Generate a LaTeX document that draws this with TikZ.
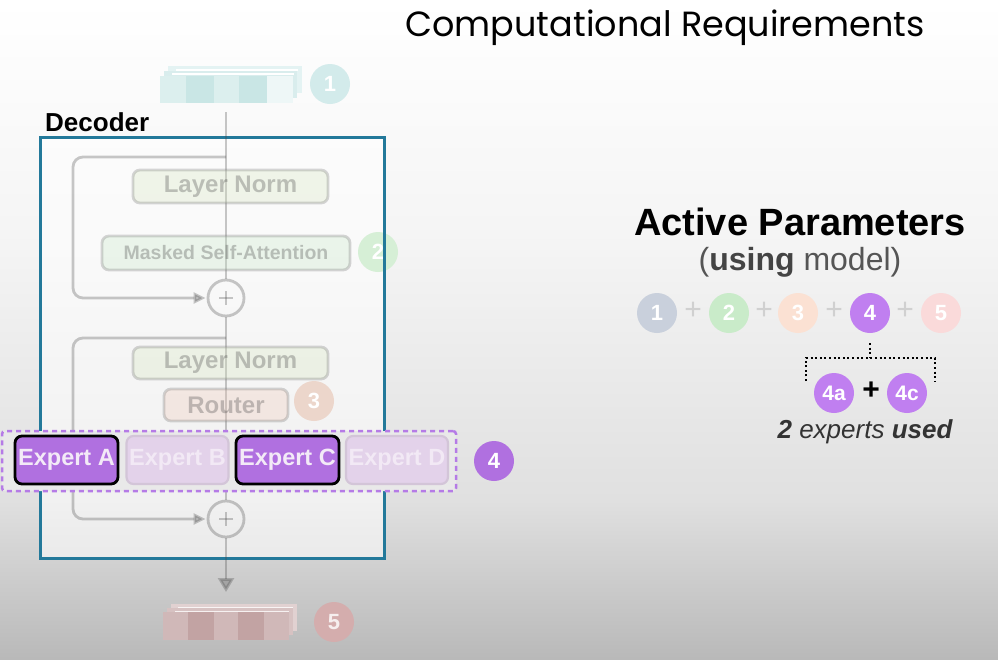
\documentclass[tikz,border=0pt]{standalone}
\usepackage{fontspec}
\setmainfont{Liberation Sans}
\newfontfamily\titlefont{Poppins}
\usetikzlibrary{arrows.meta}

% palette
\definecolor{bgA}{HTML}{FFFFFF}
\definecolor{bgB}{HTML}{F4F4F4}
\definecolor{bgC}{HTML}{E0E0E0}
\definecolor{bgD}{HTML}{B9B9B9}
\definecolor{decteal}{HTML}{23799A}
\definecolor{ghostline}{HTML}{4A4A4A}
\definecolor{ghostedge}{HTML}{7A7A7A}
\definecolor{ghosttext}{HTML}{404040}
\definecolor{lnfill}{HTML}{D6E6BF}
\definecolor{msafill}{HTML}{C7E8C7}
\definecolor{routerfill}{HTML}{F0C8B8}
\definecolor{moe}{HTML}{B070E0}
\definecolor{moelight}{HTML}{C07FF0}
\definecolor{moedash}{HTML}{B57BE6}
\definecolor{expfadefill}{HTML}{E3D2EA}
\definecolor{expfadeedge}{HTML}{D3C5D8}
\definecolor{expfadetext}{HTML}{F2E9F5}
\definecolor{expertext}{HTML}{F3EAF7}
\definecolor{tealA}{HTML}{DCEFEE}
\definecolor{tealB}{HTML}{C9E6E5}
\definecolor{tealC}{HTML}{EEF7F7}
\definecolor{tealBack}{HTML}{D9EDED}
\definecolor{roseA}{HTML}{D0B8B8}
\definecolor{roseB}{HTML}{C2A3A3}
\definecolor{roseBack}{HTML}{CDB3B3}
\definecolor{oneL}{HTML}{D3EBEB}
\definecolor{twoL}{HTML}{D6EFD6}
\definecolor{threeL}{HTML}{ECD6CB}
\definecolor{fiveL}{HTML}{D4ADAD}
\definecolor{oneR}{HTML}{C9D0DC}
\definecolor{twoR}{HTML}{C9EBC9}
\definecolor{threeR}{HTML}{FBE1D3}
\definecolor{fiveR}{HTML}{FADADA}
\definecolor{plusR}{HTML}{D0D0D0}
\definecolor{subtitle}{HTML}{555555}

\tikzset{
  ghostwire/.style={draw=ghostline, line width=2.8pt, opacity=0.3},
  ghostbox/.style={draw=ghostedge, line width=2.8pt, rounded corners=7pt,
    opacity=0.3, text=ghosttext, font=\bfseries, inner sep=0pt},
  sumnode/.style={circle, draw=ghostline, line width=2.8pt, opacity=0.3,
    minimum size=36pt, inner sep=0pt},
  badge/.style={circle, minimum size=40pt, inner sep=0pt, text=white,
    font=\fontsize{22}{22}\selectfont\bfseries},
  expertsel/.style={draw=black, line width=2.8pt, fill=moe, rounded corners=7pt,
    text=expertext, font=\fontsize{23.5}{24}\selectfont\bfseries,
    minimum width=103pt, minimum height=48pt, inner sep=0pt},
  expertoff/.style={draw=expfadeedge, line width=2.2pt, fill=expfadefill,
    rounded corners=7pt, text=expfadetext,
    font=\fontsize{23.5}{24}\selectfont\bfseries,
    minimum width=102pt, minimum height=48pt, inner sep=0pt},
  bracket/.style={draw=black, line width=2.5pt, dash pattern=on 2pt off 2.6pt},
  tip/.style={-{Triangle[length=12pt,width=11pt]}},
  bigtip/.style={-{Triangle[length=14pt,width=16pt]}},
}

\begin{document}
\begin{tikzpicture}[x=1pt,y=-1pt]
\useasboundingbox (0,0) rectangle (998,659);

% background vignette
\fill[top color=bgA, bottom color=bgB] (0,0) rectangle (998,250);
\fill[top color=bgB, bottom color=bgC] (0,250) rectangle (998,500);
\fill[top color=bgC, bottom color=bgD] (0,500) rectangle (998,659);

% title
\node[font=\titlefont\fontsize{35}{35}\selectfont, anchor=center] (title) at (665,28) {Computational Requirements};

% ---------- input token stack ----------
\begin{scope}
  \fill[tealBack!70] (168,66) rectangle (302,93);
  \draw[white, line width=1.5pt] (176,70) -- (298,70);
  \fill[tealBack] (164,71) rectangle (297,98);
  \draw[white, line width=1.5pt] (172,74) -- (294,74);
  \fill[tealA] (160,76) rectangle (186,103);
  \fill[tealB] (186,76) rectangle (214,103);
  \fill[tealA] (214,76) rectangle (239,103);
  \fill[tealB] (239,76) rectangle (267,103);
  \fill[tealC] (267,76) rectangle (293,103);
\end{scope}
\coordinate (intok) at (226,103);
\node[badge, fill=oneL] (b1) at (330,84) {1};

% decoder label
\node[anchor=south west, font=\fontsize{26}{26}\selectfont\bfseries, inner sep=0pt] (declabel) at (45,132) {Decoder};

% decoder body fill
\fill[white, fill opacity=0.55] (40,137) rectangle (384,558);

% side badges that sit under the frame
\node[badge, fill=twoL] (b2) at (378,252) {2};
\node[badge, fill=threeL] (b3) at (314,401) {3};

% frame
\draw[decteal, line width=3pt] (40,137) rectangle (384,558);

% ---------- sublayers ----------
\node[sumnode] (plus1) at (226,298) {};
\node[sumnode] (plus2) at (226,519) {};
\coordinate (trunktop) at (226,112);
\coordinate (fork1) at (226,157);
\coordinate (fork2) at (226,338);
\coordinate (loop1a) at (73,157);
\coordinate (loop1b) at (73,298);
\coordinate (loop2a) at (73,338);
\coordinate (loop2b) at (73,519);

% main trunk
\draw[ghostwire] (trunktop) -- (plus1.north);
\draw[ghostwire] (plus1.south) -- (plus2.north);

% residual paths
\draw[ghostwire, rounded corners=10pt, tip] (fork1) -- (loop1a) -- (loop1b) -- ([xshift=-1pt]plus1.west);
\draw[ghostwire, rounded corners=10pt, tip] (fork2) -- (loop2a) -- (loop2b) -- ([xshift=-1pt]plus2.west);

% plus marks
\foreach \p in {plus1, plus2} {
  \draw[ghostwire] ([xshift=-7pt]\p.center) -- ([xshift=7pt]\p.center);
  \draw[ghostwire] ([yshift=-7pt]\p.center) -- ([yshift=7pt]\p.center);
}

\node[ghostbox, fill=lnfill, minimum width=195pt, minimum height=33pt,
  font=\fontsize{24}{24}\selectfont\bfseries] (ln1) at (230.5,186.5) {Layer Norm};
\node[ghostbox, fill=msafill, minimum width=248pt, minimum height=34pt,
  font=\fontsize{19.5}{20}\selectfont\bfseries] (msa) at (226,253) {Masked Self-Attention};
\node[ghostbox, fill=lnfill, minimum width=195pt, minimum height=32pt,
  font=\fontsize{24}{24}\selectfont\bfseries] (ln2) at (230.5,363) {Layer Norm};
\node[ghostbox, fill=routerfill, minimum width=124pt, minimum height=32pt,
  font=\fontsize{24}{24}\selectfont\bfseries] (router) at (226,405) {Router};

% ---------- expert layer ----------
\node[draw=moedash, line width=2.5pt, dash pattern=on 5pt off 4pt,
  fill=bgC!55!bgB, rounded corners=3pt, minimum width=454pt, minimum height=60pt,
  inner sep=0pt] (moebox) at (229,461) {};
\node[expertsel] (expA) at (66.5,460) {Expert A};
\node[expertoff] (expB) at (177.5,460) {Expert B};
\node[expertsel] (expC) at (287.5,460) {Expert C};
\node[expertoff] (expD) at (397,460) {Expert D};
\node[badge, fill=moe] (b4) at (494,461) {4};

% ---------- output ----------
\begin{scope}
  \fill[roseBack!60] (171,604) rectangle (297,631);
  \draw[white!85!roseA, line width=1.5pt] (178,608) -- (293,608);
  \fill[roseBack!80] (167,608) rectangle (293,635);
  \draw[white!80!roseA, line width=1.5pt] (175,612) -- (289,612);
  \fill[roseA] (163,612) rectangle (188,640);
  \fill[roseB] (188,612) rectangle (214,640);
  \fill[roseA] (214,612) rectangle (238,640);
  \fill[roseB] (238,612) rectangle (264,640);
  \fill[roseA] (264,612) rectangle (289,640);
\end{scope}
\coordinate (outtok) at (226,592);
\draw[ghostwire, bigtip] (plus2.south) -- (outtok);
\node[badge, fill=fiveL, text=white!80!fiveL] (b5) at (334,622) {5};

% ---------- active parameters ----------
\node[font=\fontsize{38}{38}\selectfont\bfseries] (aptitle) at (800,222) {Active Parameters};
\node[font=\fontsize{32}{32}\selectfont, text=subtitle] (apsub) at (800,262)
  {(\textbf{\color{subtitle!80!black}using} model)};

\node[badge, fill=oneR] (r1) at (657,313) {1};
\node[badge, fill=twoR] (r2) at (729,313) {2};
\node[badge, fill=threeR] (r3) at (798,313) {3};
\node[badge, fill=moelight] (r4) at (870,313) {4};
\node[badge, fill=fiveR] (r5) at (941,313) {5};
\foreach \x/\n in {693/p1, 764/p2, 834/p3, 905/p4}
  \node[text=plusR, font=\fontsize{30}{30}\selectfont] (\n) at (\x,311) {+};

% dotted brace
\coordinate (brtop) at (870,343);
\coordinate (brmid) at (870,358);
\coordinate (brl) at (806,358);
\coordinate (brr) at (935,358);
\coordinate (brlend) at (806,381);
\coordinate (brrend) at (935,381);
\draw[bracket] (brtop) -- (brmid);
\draw[bracket] (brlend) -- (brl) -- (brr) -- (brrend);

\node[badge, fill=moelight, font=\fontsize{21}{21}\selectfont\bfseries] (r4a) at (834,393) {4a};
\node[font=\fontsize{30}{30}\selectfont\bfseries] (rplus) at (871,391) {+};
\node[badge, fill=moelight, font=\fontsize{21}{21}\selectfont\bfseries] (r4c) at (907,393) {4c};

\node[font=\fontsize{26}{26}\selectfont\itshape, text=black!80] (used) at (865,432)
  {\textbf{2} experts \textbf{used}};
\end{tikzpicture}
\end{document}
